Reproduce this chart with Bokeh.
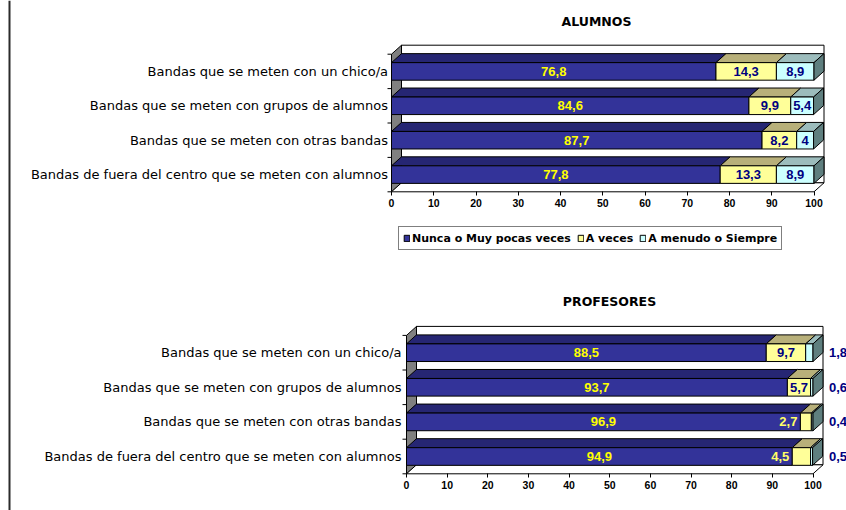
from bokeh.plotting import figure
from bokeh.models import (ColumnDataSource, FixedTicker, Legend, LegendItem,
                          LinearAxis, Range1d)
from bokeh.embed import file_html
from bokeh.resources import INLINE
from bokeh.core.properties import value

# ---- data -------------------------------------------------------------
categories = [
    "Bandas que se meten con un chico/a",
    "Bandas que se meten con grupos de alumnos",
    "Bandas que se meten con otras bandas",
    "Bandas de fuera del centro que se meten con alumnos",
]
series_names = ["Nunca o Muy pocas veces", "A veces", "A menudo o Siempre"]

alumnos_nunca = [76.8, 84.6, 87.7, 77.8]
alumnos_a_veces = [14.3, 9.9, 8.2, 13.3]
alumnos_a_menudo = [8.9, 5.4, 4.0, 8.9]

profesores_nunca = [88.5, 93.7, 96.9, 94.9]
profesores_a_veces = [9.7, 5.7, 2.7, 4.5]
profesores_a_menudo = [1.8, 0.6, 0.4, 0.5]

x_ticks = [0, 10, 20, 30, 40, 50, 60, 70, 80, 90, 100]

# ---- page layout (pixels) and style -------------------------------------
PAGE_W, PAGE_H = 846, 510
DEPTH_X_PX, DEPTH_Y_PX = 10, 9
BAR_FRAC = 0.51
FRONT = ["#333399", "#FFFF99", "#CCFFFF"]
TOP = ["#262673", "#b8b07a", "#9cbcbc"]
END_FACE = "#5f7f7f"
LABEL_COLOR = ["#FFFF00", "#000080", "#000080"]
OUTSIDE_LABEL_COLOR = ["#FFFF00", "#FFFF66", "#000080"]
CAT_FONT = "DejaVu Sans"
NUM_FONT = "Liberation Sans"

# panel geometry: x of value 0, x of value 100, y of the front floor edge,
# height of one category row, title centre, category-label gap
PANELS = {
    "alumnos": dict(x0=391, x100=813.5, floor=191.3, row=34.4,
                    title_x=596, title_y=21, label_gap=3.5),
    "profesores": dict(x0=406, x100=812.5, floor=473.3, row=34.6,
                       title_x=609, title_y=301, label_gap=5),
}


def fmt(v):
    return f"{v:g}".replace(".", ",")


def ranges_for(g):
    ppu = (g["x100"] - g["x0"]) / 100.0
    xr = Range1d(-g["x0"] / ppu, (PAGE_W - g["x0"]) / ppu)
    yr = Range1d(-(PAGE_H - g["floor"]) / g["row"], g["floor"] / g["row"])
    return ppu, xr, yr


ppu1, xr1, yr1 = ranges_for(PANELS["alumnos"])
ppu2, xr2, yr2 = ranges_for(PANELS["profesores"])

p = figure(width=PAGE_W, height=PAGE_H, x_range=xr1, y_range=yr1,
           min_border=0, x_axis_location=None, y_axis_location=None,
           output_backend="svg", toolbar_location=None)
p.extra_x_ranges = {"x2": xr2}
p.extra_y_ranges = {"y2": yr2}
p.grid.visible = False
p.outline_line_color = None
p.background_fill_color = "white"
p.border_fill_color = "white"

# thin frame line down the left edge of the page
p.segment(x0=[(9 - PANELS["alumnos"]["x0"]) / ppu1], y0=[yr1.start],
          x1=[(9 - PANELS["alumnos"]["x0"]) / ppu1], y1=[yr1.end],
          line_color="#2b2b2b", line_width=2)


def draw_panel(title, series, g, ppu, xname, yname):
    kw = dict(x_range_name=xname, y_range_name=yname)
    n = len(categories)
    dx = DEPTH_X_PX / ppu
    dy = DEPTH_Y_PX / g["row"]

    # 3D box: back wall, left wall, floor
    walls = ColumnDataSource(dict(
        xs=[[dx, 100 + dx, 100 + dx, dx], [0, 0, dx, dx], [0, 100, 100 + dx, dx]],
        ys=[[dy, dy, n + dy, n + dy], [0, n, n + dy, dy], [0, 0, dy, dy]],
        fill=["#ffffff", "#808080", "#ffffff"],
    ))
    p.patches("xs", "ys", source=walls, fill_color="fill", line_color="black",
              line_width=1, **kw)

    centers = [n - 0.5 - i for i in range(n)]
    half = BAR_FRAC / 2
    starts = [0.0] * n
    front = []
    lx, ly, lt, lc, la = [], [], [], [], []
    for s, vals in enumerate(series):
        left = list(starts)
        right = [a + v for a, v in zip(left, vals)]
        bottom = [c - half for c in centers]
        top = [c + half for c in centers]
        p.patches([[l, r, r + dx, l + dx] for l, r in zip(left, right)],
                  [[t, t, t + dy, t + dy] for t in top],
                  fill_color=TOP[s], line_color="black", line_width=1, **kw)
        front.append(p.quad(left=left, right=right, bottom=bottom, top=top,
                            fill_color=FRONT[s], line_color="black", line_width=1, **kw))
        for i, v in enumerate(vals):
            w_px = v * ppu
            if s == 2 and w_px < 10:
                lx.append(100 + dx + 6 / ppu)
                la.append("left")
                lc.append(OUTSIDE_LABEL_COLOR[s])
            elif s == 1 and w_px < 20:
                lx.append(left[i] - 3 / ppu)
                la.append("right")
                lc.append(OUTSIDE_LABEL_COLOR[s])
            else:
                lx.append((left[i] + right[i]) / 2)
                la.append("center")
                lc.append(LABEL_COLOR[s])
            ly.append(centers[i])
            lt.append(fmt(v))
        starts = right

    # end face of each stacked bar
    p.patches([[e, e + dx, e + dx, e] for e in starts],
              [[c - half, c - half + dy, c + half + dy, c + half] for c in centers],
              fill_color=END_FACE, line_color="black", line_width=1, **kw)

    src = ColumnDataSource(dict(x=lx, y=ly, text=lt, color=lc, align=la))
    p.text("x", "y", text="text", source=src, text_color="color", text_align="align",
           text_baseline="middle", text_font=value(NUM_FONT), text_font_style="bold",
           text_font_size="13px", **kw)

    # category axis: labels and ticks between rows
    tick = 4 / ppu
    p.segment(x0=[-tick] * (n + 1), y0=list(range(n + 1)), x1=[0] * (n + 1),
              y1=list(range(n + 1)), line_color="black", line_width=1, **kw)
    p.text(x=[-g["label_gap"] / ppu] * n, y=centers, text=categories,
           text_align="right", text_baseline="middle", text_font=value(CAT_FONT),
           text_font_size="13px", text_color="black", **kw)

    # panel title
    p.text(x=[(g["title_x"] - g["x0"]) / ppu], y=[(g["floor"] - g["title_y"]) / g["row"]],
           text=[title], text_align="center", text_baseline="middle",
           text_font=value(CAT_FONT), text_font_style="bold", text_font_size="12.5px",
           text_color="black", **kw)

    # value axis, fixed at the front edge of the floor
    ax = LinearAxis(x_range_name=xname, y_range_name=yname, fixed_location=0,
                    ticker=FixedTicker(ticks=x_ticks, minor_ticks=[]))
    ax.axis_line_color = None
    ax.major_tick_out = 4
    ax.major_tick_in = 0
    ax.major_tick_line_color = "black"
    ax.major_label_standoff = 3
    ax.major_label_text_font = NUM_FONT
    ax.major_label_text_font_style = "bold"
    ax.major_label_text_font_size = "10.5px"
    ax.major_label_text_color = "black"
    p.add_layout(ax, "below")
    return front


front1 = draw_panel("ALUMNOS", [alumnos_nunca, alumnos_a_veces, alumnos_a_menudo],
                    PANELS["alumnos"], ppu1, "default", "default")
draw_panel("PROFESORES", [profesores_nunca, profesores_a_veces, profesores_a_menudo],
           PANELS["profesores"], ppu2, "x2", "y2")

legend = Legend(items=[LegendItem(label=name, renderers=[r])
                       for name, r in zip(series_names, front1)],
                orientation="horizontal", location=(398, PAGE_H - 250),
                border_line_color="black", border_line_width=1,
                glyph_width=7, glyph_height=8, label_height=14, label_width=10,
                label_standoff=2, spacing=6, padding=4, margin=0,
                label_text_font=CAT_FONT, label_text_font_style="bold",
                label_text_font_size="11px", label_text_color="black",
                background_fill_color="white")
p.add_layout(legend)

open("out.html", "w").write(file_html(p, INLINE))
